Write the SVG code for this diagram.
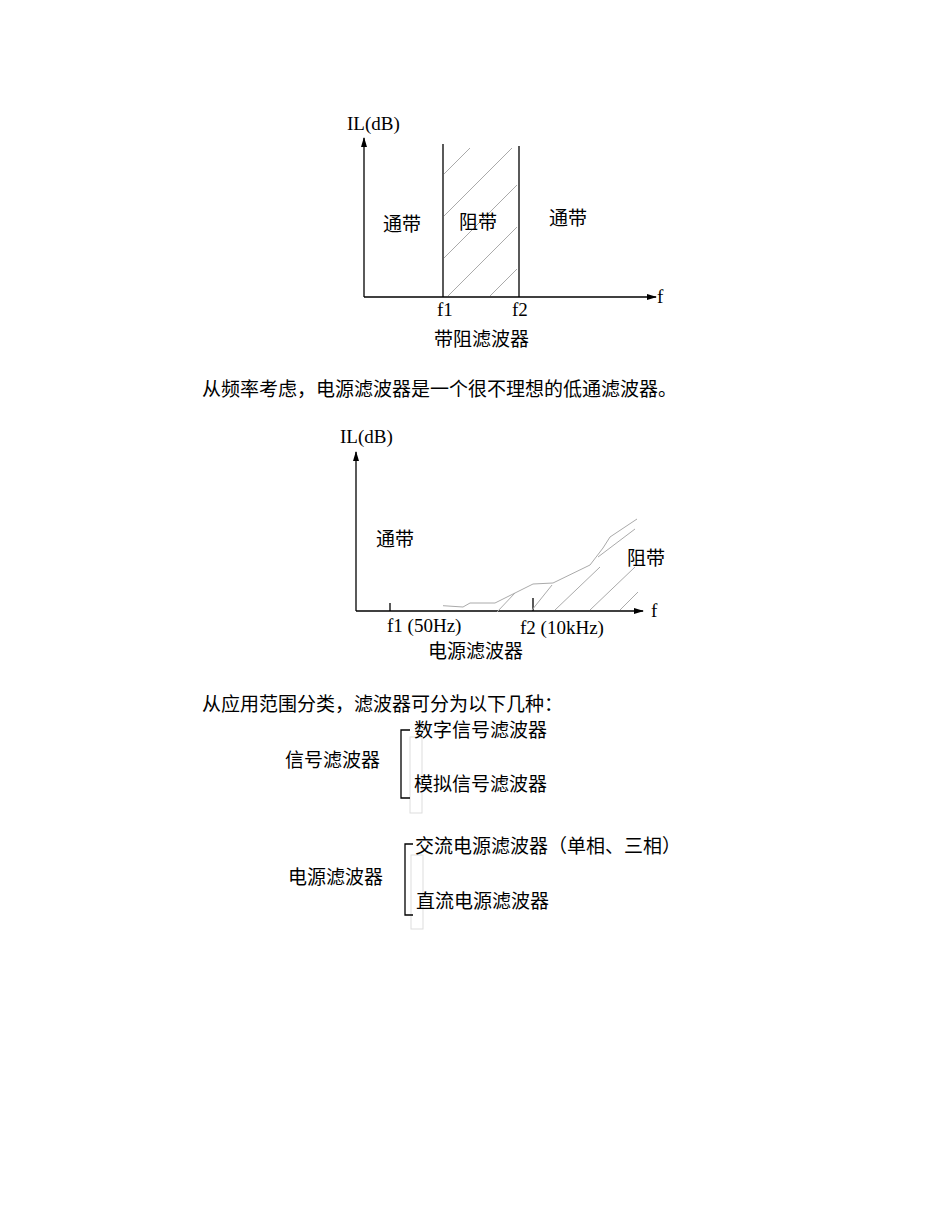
<svg xmlns="http://www.w3.org/2000/svg" width="950" height="1230" viewBox="0 0 950 1230">
<style>
text{font-family:"Liberation Serif","Noto Sans CJK SC",serif;font-size:19px;fill:#000}
.ax{stroke:#000;stroke-width:1.3;fill:none}
.h{stroke:#aaa;stroke-width:1;fill:none}
</style>
<defs>
<marker id="a" markerWidth="10" markerHeight="8" refX="9" refY="4" orient="auto" markerUnits="userSpaceOnUse"><path d="M0,1 L10,4 L0,7 Z" fill="#000"/></marker>
<clipPath id="c1"><rect x="444" y="148" width="73" height="148"/></clipPath>
</defs>
<rect width="950" height="1230" fill="#fff"/>
<g id="chart1">
<line class="ax" x1="364" y1="297" x2="364" y2="138" marker-end="url(#a)"/>
<line class="ax" x1="364" y1="297" x2="656" y2="297" marker-end="url(#a)"/>
<line class="ax" x1="443" y1="144" x2="443" y2="297"/>
<line class="ax" x1="519" y1="146" x2="519" y2="297"/>
<g class="h" clip-path="url(#c1)">
<line x1="444" y1="174" x2="470" y2="148"/>
<line x1="444" y1="216" x2="514" y2="146"/>
<line x1="444" y1="258" x2="524" y2="178"/>
<line x1="444" y1="300" x2="524" y2="220"/>
<line x1="470" y1="316" x2="524" y2="262"/>
<line x1="505" y1="316" x2="524" y2="297"/>
</g>
<text x="347" y="130">IL(dB)</text>
<text x="383" y="231">通带</text>
<text x="459" y="229">阻带</text>
<text x="549" y="225">通带</text>
<text x="437" y="316">f1</text>
<text x="512" y="316">f2</text>
<text x="657" y="303">f</text>
<text x="434" y="346">带阻滤波器</text>
</g>
<text x="202" y="396">从频率考虑，电源滤波器是一个很不理想的低通滤波器。</text>
<g id="chart2">
<line class="ax" x1="356" y1="611" x2="356" y2="452" marker-end="url(#a)"/>
<line class="ax" x1="356" y1="611" x2="643" y2="611" marker-end="url(#a)"/>
<line class="ax" x1="390" y1="603" x2="390" y2="611"/>
<line class="ax" x1="533" y1="598" x2="533" y2="611"/>
<polyline class="h" points="443,605.7 463,607 470,603 495,603 533,584 553,583 590,565 603,548 610,537 637,519"/>
<g class="h">
<line x1="598" y1="557" x2="635" y2="529"/>
<line x1="497" y1="612" x2="515" y2="593"/>
<line x1="532" y1="610" x2="552" y2="585"/>
<line x1="555" y1="610" x2="600" y2="567"/>
<line x1="590" y1="610" x2="635" y2="567"/>
<line x1="620" y1="610" x2="638" y2="592"/>
</g>
<text x="340" y="443">IL(dB)</text>
<text x="376" y="546">通带</text>
<text x="627" y="565">阻带</text>
<text x="651" y="617">f</text>
<text x="387" y="632">f1 (50Hz)</text>
<text x="520" y="634">f2 (10kHz)</text>
<text x="428" y="658">电源滤波器</text>
</g>
<text x="202" y="711">从应用范围分类，滤波器可分为以下几种：</text>
<g id="signal">
<rect x="410" y="737" width="12" height="76" fill="none" stroke="#ddd"/>
<polyline class="ax" points="410,730 401,730 401,798 410,798"/>
<text x="285" y="767">信号滤波器</text>
<text x="414" y="737">数字信号滤波器</text>
<text x="414" y="791">模拟信号滤波器</text>
</g>
<g id="power">
<rect x="411" y="855" width="12" height="74" fill="none" stroke="#ddd"/>
<polyline class="ax" points="413,844 405,844 405,915 413,915"/>
<text x="288" y="884">电源滤波器</text>
<text x="415" y="853">交流电源滤波器（单相、三相）</text>
<text x="416" y="908">直流电源滤波器</text>
</g>
</svg>
